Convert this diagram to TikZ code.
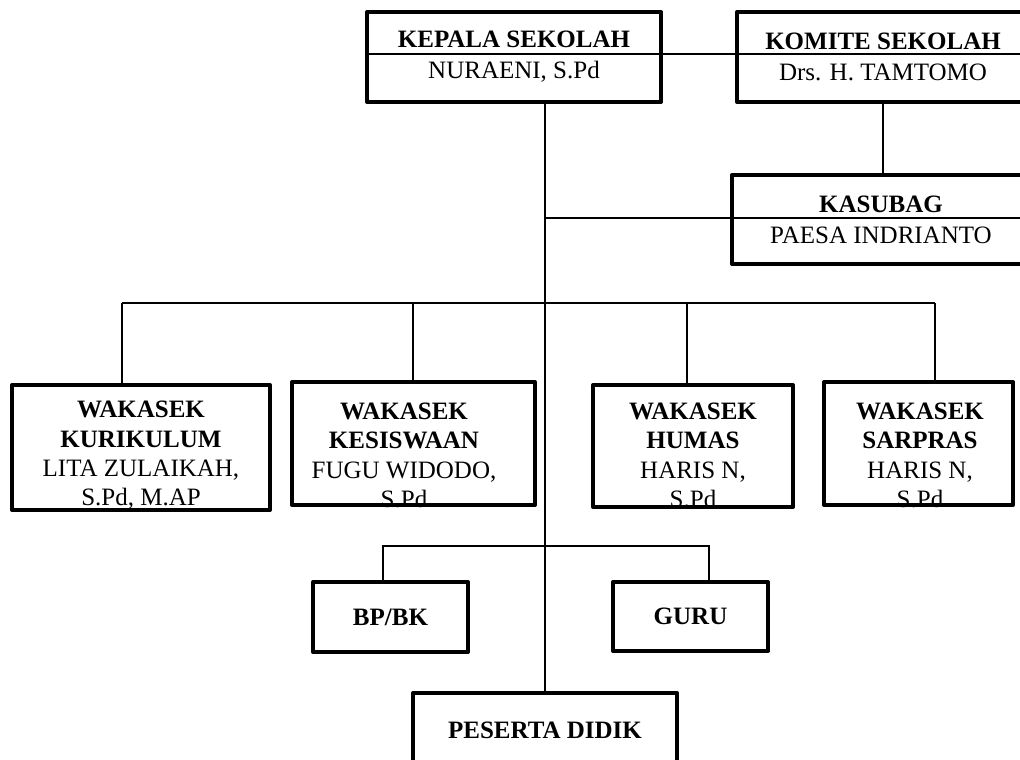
\documentclass[tikz,border=0pt]{standalone}
\usepackage{fontspec}
\setmainfont{Liberation Serif}
\begin{document}
\begin{tikzpicture}[x=1pt,y=-1pt,
    kotak/.style={draw,line width=4pt,line join=round,inner sep=0pt,align=center,font=\fontsize{25}{31}\selectfont},
    teks/.style={align=center,inner sep=0pt,font=\fontsize{25}{29.3}\selectfont},
    garis/.style={line width=1.5pt}]
    \useasboundingbox (0,0) rectangle (1020,760);
    \clip (0,0) rectangle (1020,760);
    % pimpinan
    \node[kotak,minimum width=294,minimum height=90](kepala) at (514,57) {\textbf{KEPALA SEKOLAH}\\NURAENI, S.Pd};
    \node[kotak,minimum width=292,minimum height=90](komite) at (883,57) {\textbf{KOMITE SEKOLAH}\\Drs. H. TAMTOMO};
    \node[kotak,minimum width=298,minimum height=89](kasubag) at (881,219.5) {\textbf{KASUBAG}\\PAESA INDRIANTO};
    % wakasek
    \node[kotak,minimum width=258,minimum height=125](wk1) at (141,447.5) {};
    \node[kotak,minimum width=243,minimum height=123](wk2) at (413.5,443.5) {};
    \node[kotak,minimum width=200,minimum height=122](wk3) at (693,446) {};
    \node[kotak,minimum width=189,minimum height=123](wk4) at (918.5,443.5) {};
    \node[teks](wk1t) at (141,455.5) {\textbf{WAKASEK}\\\textbf{KURIKULUM}\\LITA ZULAIKAH,\\S.Pd, M.AP};
    \node[teks](wk2t) at (404,455.5) {\textbf{WAKASEK}\\\textbf{KESISWAAN}\\FUGU WIDODO,\\S.Pd};
    \node[teks](wk3t) at (693,455.5) {\textbf{WAKASEK}\\\textbf{HUMAS}\\HARIS N,\\S.Pd};
    \node[teks](wk4t) at (920,455.5) {\textbf{WAKASEK}\\\textbf{SARPRAS}\\HARIS N,\\S.Pd};
    % bawah
    \node[kotak,minimum width=155,minimum height=70](bpbk) at (390.5,617) {\textbf{BP/BK}};
    \node[kotak,minimum width=155,minimum height=69](guru) at (690.5,616.5) {\textbf{GURU}};
    \node[kotak,minimum width=264,minimum height=74](peserta) at (545,730) {\textbf{PESERTA DIDIK}};
    % titik bantu
    \coordinate (ujungA) at (1030,54);
    \coordinate (ujungB) at (1030,218);
    \coordinate (s1) at (122,303);
    \coordinate (s2) at (413,303);
    \coordinate (s3) at (687,303);
    \coordinate (s4) at (935,303);
    \coordinate (c1) at (383,546);
    \coordinate (c2) at (709,546);
    % garis
    \draw[garis] (kepala.west |- ujungA) -- (ujungA);
    \draw[garis] (kepala.south -| peserta.north) -- (peserta.north);
    \draw[garis] (komite.south) -- (komite.south |- kasubag.north);
    \draw[garis] (peserta.north |- ujungB) -- (ujungB);
    \draw[garis] (s1) -- (s4);
    \draw[garis] (s1) -- (s1 |- wk1.north);
    \draw[garis] (s2) -- (s2 |- wk2.north);
    \draw[garis] (s3) -- (s3 |- wk3.north);
    \draw[garis] (s4) -- (s4 |- wk4.north);
    \draw[garis] (c1 |- bpbk.north) -- (c1) -- (c2) -- (c2 |- guru.north);
\end{tikzpicture}
\end{document}
